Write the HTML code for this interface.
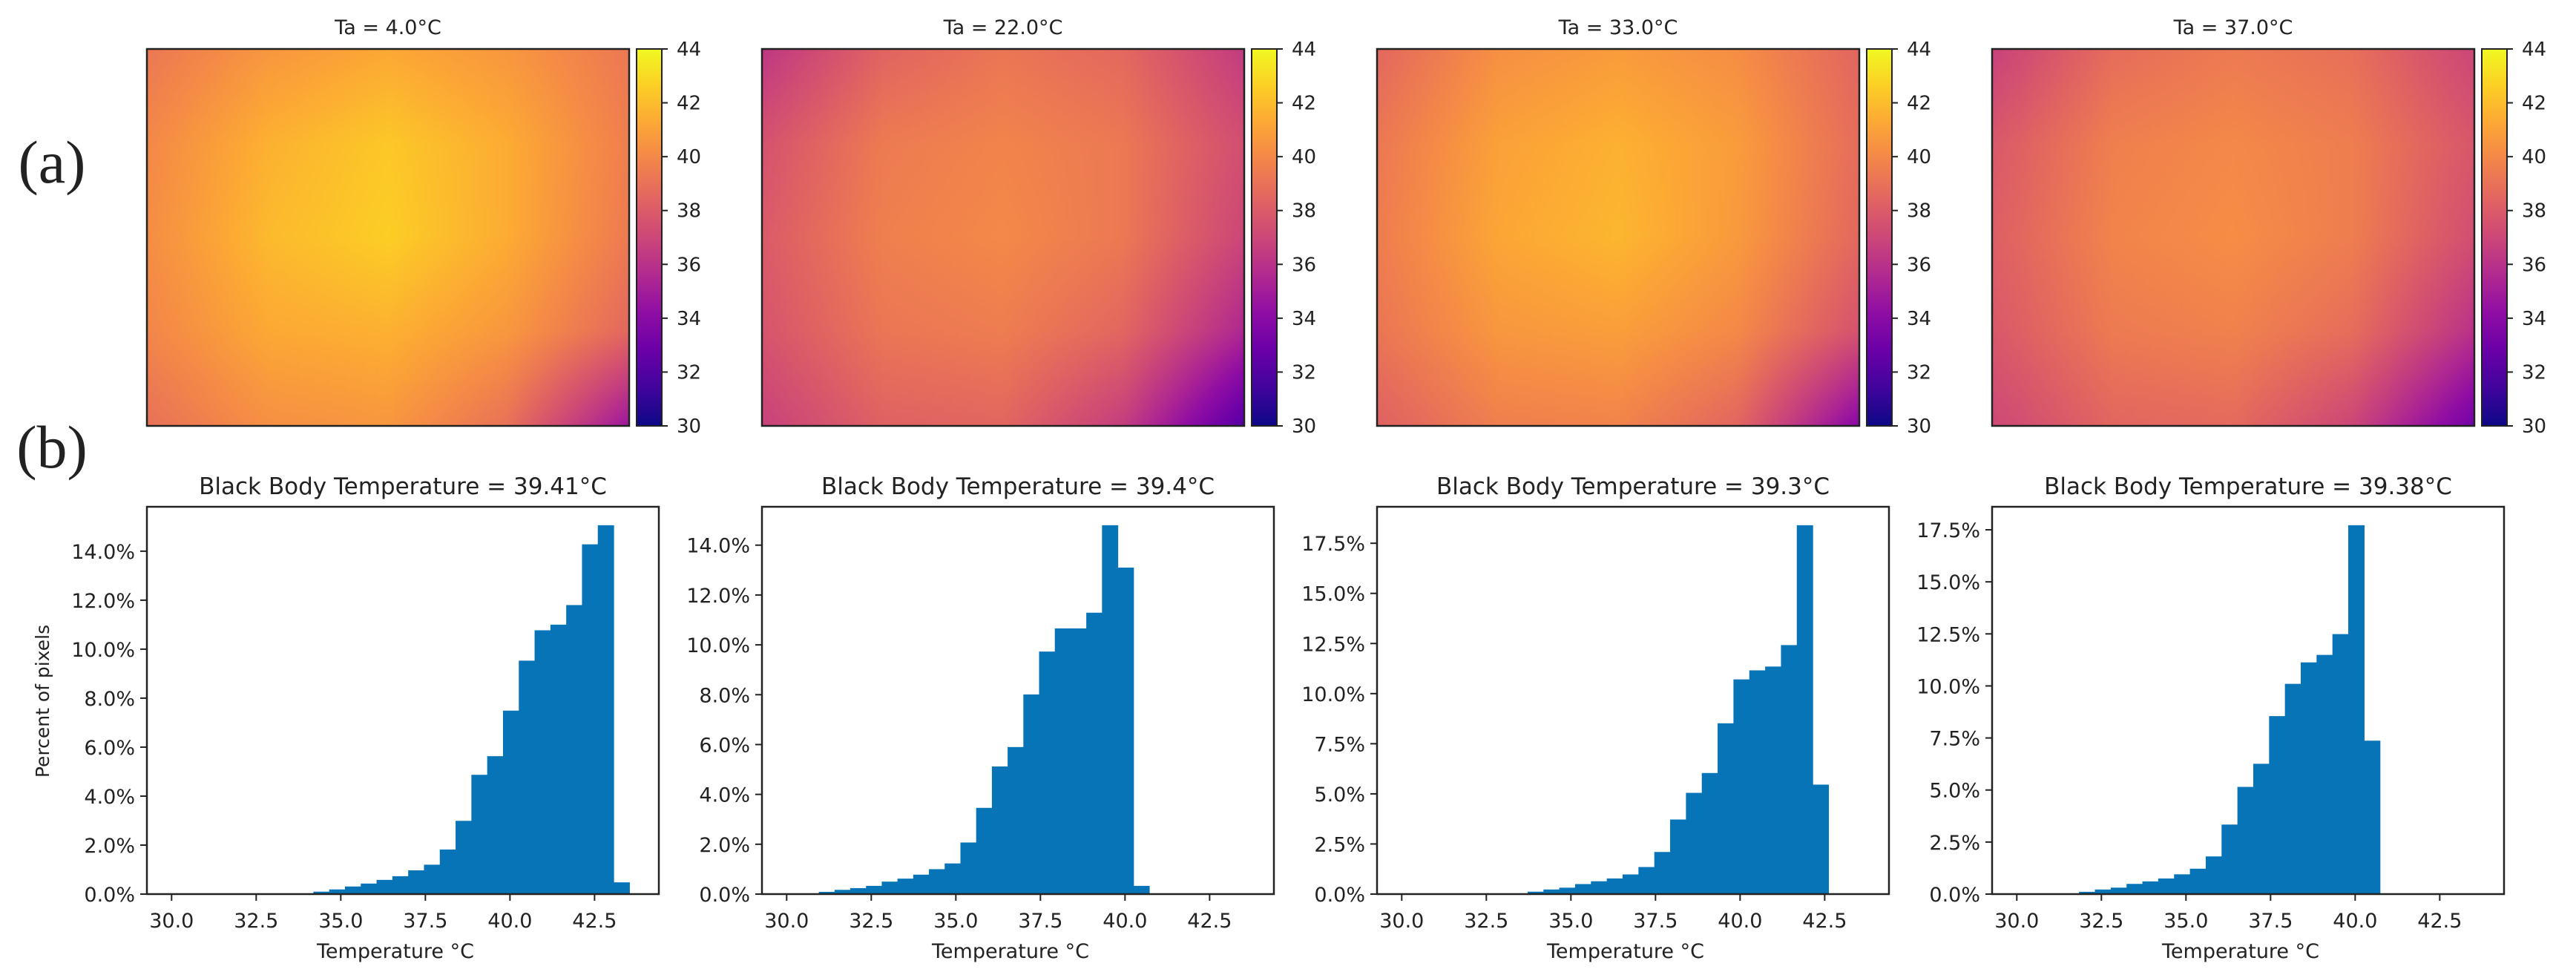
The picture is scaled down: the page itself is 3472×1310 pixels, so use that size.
<!DOCTYPE html>
<html><head><meta charset="utf-8">
<style>
html,body{margin:0;padding:0;background:#fff;}
#root{position:relative;width:3472px;height:1310px;overflow:hidden;background:#fff;}
canvas{position:absolute;}
svg{position:absolute;left:0;top:0;}
text{font-family:"DejaVu Sans","Liberation Sans",sans-serif;fill:#222;}
</style></head>
<body>
<div id="root">
<svg id="svg" width="3472" height="1310">
  <defs>
    <linearGradient id="plasmaGrad" x1="0" y1="1" x2="0" y2="0">
      <stop offset="0" stop-color="#0d0887"/><stop offset="0.1" stop-color="#41049d"/>
      <stop offset="0.2" stop-color="#6a00a8"/><stop offset="0.3" stop-color="#8f0da4"/>
      <stop offset="0.4" stop-color="#b12a90"/><stop offset="0.5" stop-color="#cc4778"/>
      <stop offset="0.6" stop-color="#e16462"/><stop offset="0.7" stop-color="#f2844b"/>
      <stop offset="0.8" stop-color="#fca636"/><stop offset="0.9" stop-color="#fcce25"/>
      <stop offset="1" stop-color="#f0f921"/>
    </linearGradient>
  </defs>
  <text x="70" y="246" font-size="82" text-anchor="middle" style="font-family:'Liberation Serif',serif">(a)</text>
  <text x="70" y="630" font-size="82" text-anchor="middle" style="font-family:'Liberation Serif',serif">(b)</text>
</svg>
</div>
<script>
// ---- data ----
const ambientLabels = ["Ta = 4.0°C","Ta = 22.0°C","Ta = 33.0°C","Ta = 37.0°C"];
const histTitles = ["Black Body Temperature = 39.41°C","Black Body Temperature = 39.4°C","Black Body Temperature = 39.3°C","Black Body Temperature = 39.38°C"];
const colorTicks = [30,32,34,36,38,40,42,44];
const xTicks = [30.0,32.5,35.0,37.5,40.0,42.5];
const yTicksA = [0,2,4,6,8,10,12,14];
const yTicksB = [0,2.5,5,7.5,10,12.5,15,17.5];
const heat1 = [[39.3,40.6,41.3,40.6,39.3],[40.0,41.6,42.4,41.4,39.6],[40.2,41.9,42.6,41.4,39.4],[39.9,41.3,41.6,40.6,38.6],[39.0,40.3,40.6,39.0,34.8]];
const heat2 = [[36.3,38.4,39.2,38.6,36.5],[37.6,39.4,39.8,39.3,37.4],[38.0,39.6,40.0,39.3,37.0],[37.7,39.2,39.5,38.5,35.5],[36.8,38.3,38.5,36.6,32.2]];
const heat3 = [[38.6,40.3,40.8,40.2,38.5],[39.3,41.0,41.6,40.8,38.8],[39.5,41.2,41.8,40.7,38.6],[39.2,40.6,40.9,40.0,37.6],[38.3,39.6,39.8,38.5,34.0]];
const heat4 = [[36.8,38.8,39.4,38.9,37.0],[37.9,39.6,40.0,39.5,37.8],[38.2,39.8,40.2,39.5,37.4],[37.9,39.4,39.7,38.8,36.0],[37.1,38.5,38.7,37.0,33.2]];
const binStart = [34.19,30.95,33.72,31.84];
const binWidth = [0.467,0.465,0.468,0.468];
const hist1 = [0.1,0.19,0.31,0.43,0.58,0.73,0.97,1.2,1.82,2.99,4.87,5.63,7.49,9.53,10.77,11.0,11.8,14.28,15.06,0.48];
const hist2 = [0.09,0.17,0.24,0.33,0.5,0.62,0.78,1.0,1.23,2.07,3.46,5.12,5.9,8.01,9.73,10.66,10.66,11.29,14.8,13.1,0.33];
const hist3 = [0.12,0.23,0.32,0.5,0.64,0.78,0.98,1.35,2.1,3.72,5.05,6.04,8.52,10.71,11.16,11.35,12.42,18.4,5.46];
const hist4 = [0.11,0.22,0.31,0.49,0.61,0.75,0.95,1.22,1.81,3.34,5.15,6.26,8.55,10.1,11.13,11.49,12.49,17.72,7.37];

const heats=[heat1,heat2,heat3,heat4];
const hists=[hist1,hist2,hist3,hist4];
const yTickSets=[yTicksA,yTicksA,yTicksB,yTicksB];
const NS="http://www.w3.org/2000/svg";
const svg=document.getElementById('svg');
const root=document.getElementById('root');
const plasma=[[13,8,135],[65,4,157],[106,0,168],[143,13,164],[177,42,144],[204,71,120],[225,100,98],[242,132,75],[252,166,54],[252,206,37],[240,249,33]];
function cmap(T){let t=(T-30)/14;t=Math.max(0,Math.min(1,t))*10;const i=Math.min(9,Math.floor(t));const f=t-i;const a=plasma[i],b=plasma[i+1];return [a[0]+(b[0]-a[0])*f,a[1]+(b[1]-a[1])*f,a[2]+(b[2]-a[2])*f];}
function el(tag,attrs,parent){const e=document.createElementNS(NS,tag);for(const k in attrs)e.setAttribute(k,attrs[k]);(parent||svg).appendChild(e);return e;}
function txt(s,attrs,parent){const e=el('text',attrs,parent);e.textContent=s;return e;}

const LEFT0=198, STEP=829;
const HM_TOP=66, HM_BOT=574, HM_W=650;
const H_TOP=683, H_BOT=1205, H_W=690;
const XMIN=29.27, XMAX=44.4;

for(let p=0;p<4;p++){
  const L=LEFT0+STEP*p;
  const cv=document.createElement('canvas');
  const cw=130,ch=102;
  cv.width=cw;cv.height=ch;
  cv.style.left=L+'px';cv.style.top=HM_TOP+'px';cv.style.width=HM_W+'px';cv.style.height=(HM_BOT-HM_TOP)+'px';
  
  
  root.insertBefore(cv,svg);
  const ctx=cv.getContext('2d');const img=ctx.createImageData(cw,ch);const g=heats[p];
  for(let y=0;y<ch;y++)for(let x=0;x<cw;x++){
    const gx=x/(cw-1)*4, gy=y/(ch-1)*4;
    const i=Math.min(3,Math.floor(gx)), j=Math.min(3,Math.floor(gy));
    const fx=gx-i, fy=gy-j;
    const v=(g[j][i]*(1-fx)+g[j][i+1]*fx)*(1-fy)+(g[j+1][i]*(1-fx)+g[j+1][i+1]*fx)*fy;
    const c=cmap(v);const k=(y*cw+x)*4;
    img.data[k]=c[0];img.data[k+1]=c[1];img.data[k+2]=c[2];img.data[k+3]=255;
  }
  ctx.putImageData(img,0,0);
  const frame=el('rect',{x:L,y:HM_TOP,width:HM_W,height:HM_BOT-HM_TOP,fill:'none',stroke:'#222','stroke-width':2.5});
  
  
  const t1=txt(ambientLabels[p],{x:L+HM_W/2,y:46,'font-size':27,'text-anchor':'middle'});
  
  
  const cbx=L+660, cbw=34;
  const cb=el('rect',{x:cbx,y:HM_TOP,width:cbw,height:HM_BOT-HM_TOP,fill:'url(#plasmaGrad)',stroke:'#222','stroke-width':2});
  
  
  colorTicks.forEach(v=>{
    const y=HM_BOT-(v-30)/14*(HM_BOT-HM_TOP);
    el('line',{x1:cbx+cbw,x2:cbx+cbw+8,y1:y,y2:y,stroke:'#222','stroke-width':2});
    const lt=txt(String(v),{x:cbx+cbw+20,y:y+9,'font-size':26});
    
    
  });
  const data=hists[p];
  const ymax=Math.max(...data)*1.05;
  const sx=v=>L+(v-XMIN)/(XMAX-XMIN)*H_W;
  const sy=v=>H_BOT-v/ymax*(H_BOT-H_TOP);
  const ht=txt(histTitles[p],{x:L+H_W/2,y:666,'font-size':31,'text-anchor':'middle'});
  
  
  data.forEach((v,i)=>{
    const x0=sx(binStart[p]+i*binWidth[p]), x1=sx(binStart[p]+(i+1)*binWidth[p]);
    const r=el('rect',{x:x0,y:sy(v),width:x1-x0+0.6,height:H_BOT-sy(v),fill:'#0774b8'});
    
    
  });
  const ax=el('rect',{x:L,y:H_TOP,width:H_W,height:H_BOT-H_TOP,fill:'none',stroke:'#222','stroke-width':2.5});
  
  
  xTicks.forEach(v=>{
    const x=sx(v);
    el('line',{x1:x,x2:x,y1:H_BOT,y2:H_BOT+9,stroke:'#222','stroke-width':2});
    const lt=txt(v.toFixed(1),{x:x,y:1250,'font-size':27,'text-anchor':'middle'});
    
    
  });
  yTickSets[p].forEach(v=>{
    const y=sy(v);
    el('line',{x1:L-9,x2:L,y1:y,y2:y,stroke:'#222','stroke-width':2});
    const lt=txt(v.toFixed(1)+'%',{x:L-16,y:y+10,'font-size':27,'text-anchor':'end'});
    
    
  });
  const xl=txt('Temperature °C',{x:L+H_W/2-10,y:1291,'font-size':27,'text-anchor':'middle'});
  
  
}
const yl=txt('Percent of pixels',{x:0,y:0,'font-size':25,'text-anchor':'middle',transform:'translate(66,945) rotate(-90)'});


</script>
</body></html>
